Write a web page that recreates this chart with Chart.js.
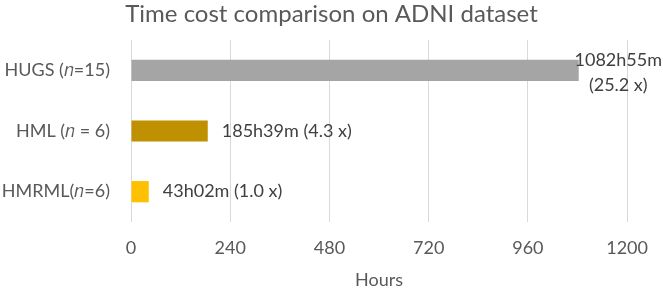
<!DOCTYPE html>
<html>
<head>
<meta charset="utf-8">
<script src="https://cdn.jsdelivr.net/npm/chart.js@4"></script>
<style>
  html, body { margin: 0; padding: 0; background: #fff; }
  #wrap { width: 663px; height: 289px; }
</style>
</head>
<body>
<div id="wrap"><canvas id="timeChart"></canvas></div>
<script>
// data
const methods = ['HUGS (\u{1D45B}=15)', 'HML (\u{1D45B} = 6)', 'HMRML(\u{1D45B}=6)'];
const hours = [1082.92, 185.65, 43.03];
const barLabels = [['1082h55m', '(25.2 x)'], ['185h39m (4.3 x)'], ['43h02m (1.0 x)']];
const barColors = ['#A5A5A5', '#BF9000', '#FFC000'];
const xTicks = [0, 240, 480, 720, 960, 1200];

const FONT = 'Lato, "Open Sans", sans-serif';

// labels next to the bar ends, wrapped like Excel when there is no room
const valueLabels = {
  id: 'valueLabels',
  afterDatasetsDraw(chart) {
    const ctx = chart.ctx;
    const meta = chart.getDatasetMeta(0);
    ctx.save();
    ctx.font = '18px ' + FONT;
    ctx.fillStyle = '#404040';
    ctx.textBaseline = 'middle';
    meta.data.forEach((bar, i) => {
      const lines = barLabels[i];
      if (lines.length === 1) {
        ctx.textAlign = 'left';
        ctx.fillText(lines[0], bar.x + 14, bar.y);
      } else {
        const w = Math.max(...lines.map(l => ctx.measureText(l).width));
        const cx = Math.min(bar.x + 14 + w / 2, chart.width - w / 2 - 1);
        const lh = 25;
        ctx.textAlign = 'center';
        lines.forEach((l, k) => {
          ctx.fillText(l, cx, bar.y + (k - (lines.length - 1) / 2) * lh + 2);
        });
      }
    });
    ctx.restore();
  }
};

new Chart(document.getElementById('timeChart'), {
  type: 'bar',
  data: {
    labels: methods,
    datasets: [{
      data: hours,
      backgroundColor: barColors,
      borderWidth: 0,
      barPercentage: 0.35,
      categoryPercentage: 1
    }]
  },
  options: {
    indexAxis: 'y',
    responsive: true,
    maintainAspectRatio: false,
    animation: false,
    layout: { padding: { left: 0, right: 0, top: 0, bottom: 0 } },
    plugins: {
      legend: { display: false },
      tooltip: { enabled: false },
      title: {
        display: true,
        text: 'Time cost comparison on ADNI dataset',
        color: '#595959',
        font: { family: FONT, size: 24, weight: 'normal' },
        padding: { top: 0, bottom: 11.2 }
      }
    },
    scales: {
      x: {
        min: 0,
        max: 1200,
        afterBuildTicks(axis) { axis.ticks = xTicks.map(v => ({ value: v })); },
        afterFit(axis) { axis.height = 67; },
        grid: { color: '#D9D9D9', lineWidth: 1, drawTicks: false },
        border: { display: false },
        ticks: {
          color: '#595959',
          padding: 15,
          font: { family: FONT, size: 18 },
          callback: v => String(v)
        },
        title: {
          display: true,
          text: 'Hours',
          color: '#595959',
          font: { family: FONT, size: 18 },
          padding: { top: 8, bottom: -2 }
        }
      },
      y: {
        afterFit(axis) { axis.width = 131; },
        grid: { display: false, drawTicks: false },
        border: { display: false },
        ticks: { color: '#595959', padding: 21, font: { family: FONT, size: 18 } }
      }
    }
  },
  plugins: [valueLabels]
});
</script>
</body>
</html>
